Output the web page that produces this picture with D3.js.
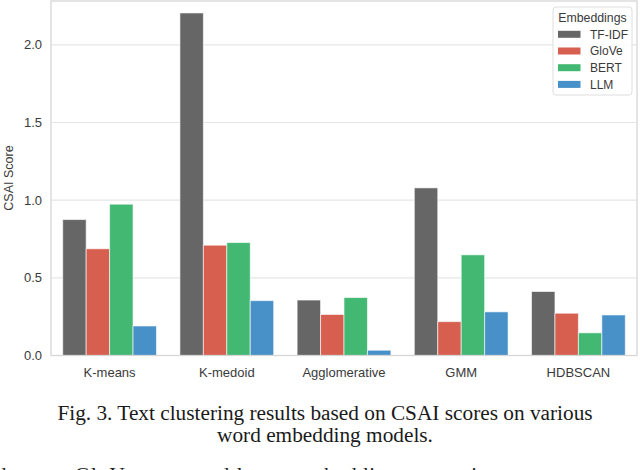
<html>
<head>
  <script src="https://d3js.org/d3.v7.min.js"></script>
  <style>
    body { margin: 0; background: #fff; }
  </style>
</head>
<body>
  <div id="chart"></div>
  <script>

    // Clustering methods along the x-axis
    var methods = ["K-means", "K-medoid", "Agglomerative", "GMM", "HDBSCAN"];

    // Embedding models (legend order)
    var embeddings = ["TF-IDF", "GloVe", "BERT", "LLM"];
    var colors = ["#666666", "#d65f4f", "#42b873", "#4790c8"];

    // CSAI score for each method, one array per embedding
    var tfidf = [0.875, 2.205, 0.357, 1.079, 0.412];
    var glove = [0.687, 0.710, 0.264, 0.218, 0.272];
    var bert  = [0.974, 0.727, 0.373, 0.648, 0.146];
    var llm   = [0.190, 0.353, 0.034, 0.281, 0.261];

    var yTicks = [0, 0.5, 1.0, 1.5, 2.0];

    var caption = [
      "Fig. 3. Text clustering results based on CSAI scores on various",
      "word embedding models."
    ];
    var cutLine = "dataset. GloVe presented lower embedding scores in some cases, and";

    var series = [tfidf, glove, bert, llm];

    // Flatten into one row per bar
    var data = [];
    methods.forEach(function(m, i) {
      embeddings.forEach(function(e, j) {
        data.push({method: m, emb: e, value: series[j][i]});
      });
    });

    var W = 640, H = 470;
    var margin = {top: 1, right: 3, bottom: 114.5, left: 51};
    var width = W - margin.left - margin.right;
    var height = H - margin.top - margin.bottom;

    var svg = d3.select("#chart")
      .append("svg")
        .attr("width", W)
        .attr("height", H)
        .style("font-family", "'Liberation Sans', Arial, sans-serif");

    var g = svg.append("g")
        .attr("transform", `translate(${margin.left},${margin.top})`);

    var x0 = d3.scaleBand()
      .domain(methods)
      .range([0, width])
      .paddingInner(0.2)
      .paddingOuter(0.1);

    var x1 = d3.scaleBand()
      .domain(embeddings)
      .range([0, x0.bandwidth()]);

    var y = d3.scaleLinear()
      .domain([0, 2.282])
      .range([height, 0]);

    var color = d3.scaleOrdinal()
      .domain(embeddings)
      .range(colors);

    // Horizontal grid lines
    g.selectAll(".grid")
      .data(yTicks)
      .join("line")
        .attr("class", "grid")
        .attr("x1", 0)
        .attr("x2", width)
        .attr("y1", d => y(d))
        .attr("y2", d => y(d))
        .attr("stroke", "#e6e6e6")
        .attr("stroke-width", 1.2);

    // Bars
    g.selectAll(".bar")
      .data(data)
      .join("rect")
        .attr("class", "bar")
        .attr("x", d => x0(d.method) + x1(d.emb))
        .attr("y", d => y(d.value))
        .attr("width", x1.bandwidth())
        .attr("height", d => height - y(d.value))
        .attr("fill", d => color(d.emb))
        .attr("stroke", "#ffffff")
        .attr("stroke-opacity", 0.6)
        .attr("stroke-width", 1);

    // Frame (spines)
    g.append("rect")
        .attr("x", 0)
        .attr("y", 0)
        .attr("width", width)
        .attr("height", height)
        .attr("fill", "none")
        .attr("stroke", "#d6d6d6")
        .attr("stroke-width", 1.3);

    // Y axis
    var yAxis = g.append("g")
        .call(d3.axisLeft(y).tickValues(yTicks).tickFormat(d3.format(".1f")).tickSize(0).tickPadding(9));
    yAxis.select(".domain").remove();
    yAxis.selectAll("text")
        .attr("font-size", 13)
        .attr("fill", "#3a3a3a")
        .style("font-family", "'Liberation Sans', Arial, sans-serif");

    // X axis
    var xAxis = g.append("g")
        .attr("transform", `translate(0,${height})`)
        .call(d3.axisBottom(x0).tickSize(0).tickPadding(12));
    xAxis.select(".domain").remove();
    xAxis.selectAll("text")
        .attr("font-size", 13)
        .attr("fill", "#3a3a3a")
        .style("font-family", "'Liberation Sans', Arial, sans-serif");

    // Y axis title
    svg.append("text")
        .attr("transform", `translate(13,178) rotate(-90)`)
        .attr("text-anchor", "middle")
        .attr("font-size", 12.5)
        .attr("fill", "#3a3a3a")
        .text("CSAI Score");

    // Legend
    var legend = svg.append("g")
        .attr("transform", "translate(553,7)");
    legend.append("rect")
        .attr("width", 79)
        .attr("height", 88)
        .attr("rx", 3)
        .attr("fill", "#ffffff")
        .attr("fill-opacity", 0.85)
        .attr("stroke", "#dedede");
    legend.append("text")
        .attr("x", 39.5)
        .attr("y", 14.5)
        .attr("text-anchor", "middle")
        .attr("font-size", 12.3)
        .attr("fill", "#3a3a3a")
        .text("Embeddings");
    var items = legend.selectAll(".item")
      .data(embeddings)
      .join("g")
        .attr("class", "item")
        .attr("transform", (d, i) => `translate(5,${27.3 + i * 16.7})`);
    items.append("rect")
        .attr("x", 0)
        .attr("y", -3.5)
        .attr("width", 22.5)
        .attr("height", 7)
        .attr("fill", d => color(d));
    items.append("text")
        .attr("x", 32)
        .attr("y", 4.3)
        .attr("font-size", 12)
        .attr("fill", "#3a3a3a")
        .text(d => d);

    // Figure caption
    svg.selectAll(".caption")
      .data(caption)
      .join("text")
        .attr("class", "caption")
        .attr("x", 325)
        .attr("y", (d, i) => 420 + i * 22)
        .attr("text-anchor", "middle")
        .attr("font-size", 21.3)
        .attr("fill", "#1a1a1a")
        .style("font-family", "'Liberation Serif', 'Times New Roman', serif")
        .text(d => d);

    // Body text line cut by the bottom edge
    svg.append("text")
        .attr("x", -4)
        .attr("y", 482)
        .attr("font-size", 21)
        .attr("fill", "#1a1a1a")
        .attr("textLength", 650)
        .style("font-family", "'Liberation Serif', 'Times New Roman', serif")
        .text(cutLine);

  </script>
</body>
</html>
